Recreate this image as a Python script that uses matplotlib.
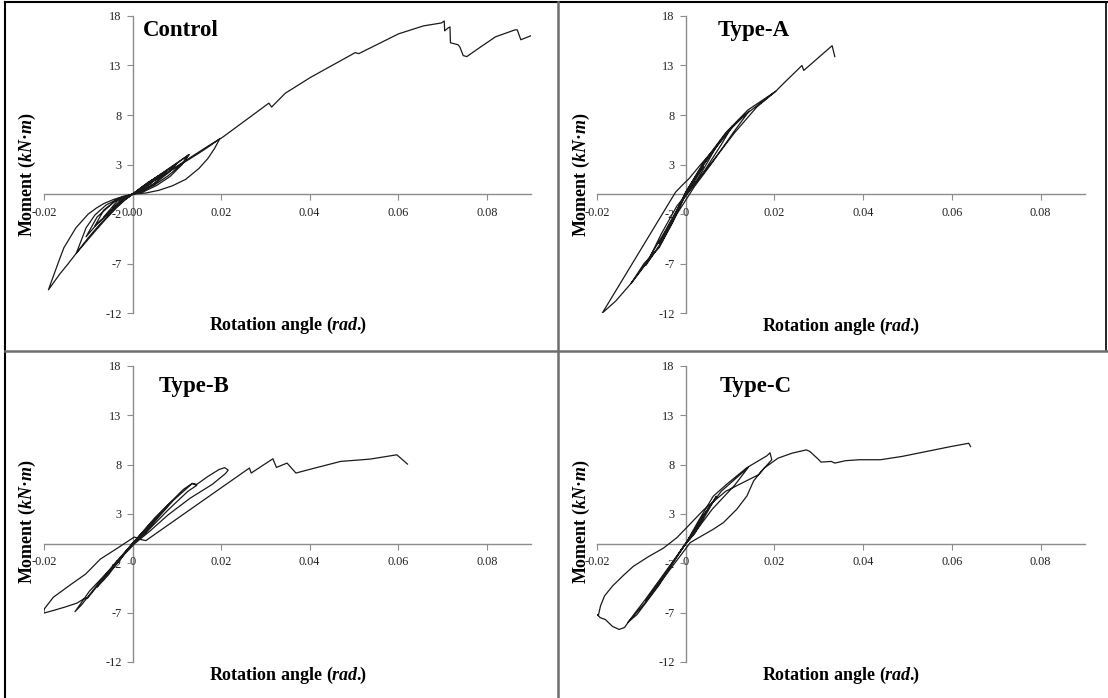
import matplotlib
matplotlib.use('Agg')
import matplotlib.pyplot as plt
from matplotlib.lines import Line2D

plt.rcParams['font.family'] = ['Liberation Serif', 'DejaVu Serif']
plt.rcParams['mathtext.fontset'] = 'custom'
plt.rcParams['mathtext.rm'] = 'Liberation Serif:bold'
plt.rcParams['mathtext.it'] = 'Liberation Serif:italic:bold'
plt.rcParams['mathtext.bf'] = 'Liberation Serif:bold'

# ---------------- data ----------------
x_ticks = [-0.02, 0.0, 0.02, 0.04, 0.06, 0.08]
x_ticklabels_control = ['-0.02', '0.00', '0.02', '0.04', '0.06', '0.08']
x_ticklabels_other = ['-0.02', '0', '0.02', '0.04', '0.06', '0.08']
y_ticks = [-12, -7, -2, 3, 8, 13, 18]
panel_titles = ['Control', 'Type-A', 'Type-B', 'Type-C']

control_rot = [0, 0.0015, 0.003, 0.0022, 0.001, 0, -0.0015, -0.003, -0.002, -0.001, 0,
               0.0025, 0.0053, 0.004, 0.002, 0, -0.002, -0.0045, -0.003, -0.0015, 0,
               0.0035, 0.0075, 0.0062, 0.004, 0.002, 0, -0.003, -0.0065, -0.0045, -0.002, 0,
               0.005, 0.0098, 0.0082, 0.0055, 0.003, 0, -0.0035, -0.0065, -0.0085, -0.006, -0.003, 0,
               0.0045, 0.009, 0.0128, 0.011, 0.008, 0.005, 0.002, 0,
               -0.004, -0.008, -0.0105, -0.008, -0.005, -0.002, 0,
               0.004, 0.0085, 0.0127, 0.0112, 0.0085, 0.0055, 0.0025, 0,
               -0.003, -0.006, -0.0085, -0.0105, -0.0127, -0.01, -0.0075, -0.005, -0.0025, 0,
               0.003, 0.0067, 0.01, 0.0127, 0.015, 0.0172, 0.0197,
               0.0185, 0.017, 0.015, 0.012, 0.009, 0.006, 0.003, 0,
               -0.002, -0.0045, -0.0065, -0.0082, -0.01, -0.0112, -0.0128, -0.0142, -0.0155,
               -0.0164, -0.0175, -0.019,
               -0.0165, -0.0145, -0.0127, -0.0105, -0.0082, -0.006, -0.0037, -0.0015, 0,
               0.004, 0.008, 0.0127, 0.0172, 0.0203, 0.0308, 0.0314, 0.0345, 0.0402, 0.0503, 0.0511,
               0.0601, 0.0657, 0.0698, 0.0704, 0.0705, 0.0713, 0.0717, 0.0718, 0.0735, 0.0739,
               0.0747, 0.0755, 0.0787, 0.082, 0.0864, 0.0869, 0.0877, 0.0905]
control_mom = [0, 0.5, 0.95, 0.55, 0.15, 0, -0.2, -0.75, -0.55, -0.25, 0,
               0.85, 1.65, 1.0, 0.35, 0, -0.3, -1.4, -0.95, -0.4, 0,
               1.2, 2.3, 1.6, 0.8, 0.25, 0, -0.45, -2.3, -1.5, -0.6, 0,
               1.6, 3.0, 2.2, 1.25, 0.5, 0, -0.55, -1.6, -3.2, -2.15, -0.95, 0,
               1.45, 2.85, 4.0, 3.0, 1.85, 0.95, 0.3, 0,
               -0.7, -2.3, -4.3, -3.0, -1.75, -0.6, 0,
               1.25, 2.6, 4.0, 3.0, 1.8, 0.9, 0.25, 0,
               -0.4, -1.1, -2.1, -3.4, -5.96, -4.4, -3.1, -1.9, -0.8, 0,
               0.85, 1.85, 2.75, 3.5, 4.15, 4.8, 5.6,
               4.6, 3.6, 2.6, 1.5, 0.85, 0.4, 0.12, 0,
               -0.2, -0.57, -0.95, -1.41, -2.0, -2.6, -3.4, -4.44, -5.4,
               -6.46, -7.8, -9.66,
               -8.1, -7.0, -5.96, -4.8, -3.6, -2.5, -1.4, -0.5, 0,
               1.15, 2.25, 3.6, 4.9, 5.74, 9.2, 8.8, 10.2, 11.8, 14.3, 14.2,
               16.2, 17.0, 17.3, 17.5, 16.5, 16.8, 16.9, 15.3, 15.1, 14.9,
               14.0, 13.9, 14.9, 15.9, 16.6, 16.6, 15.6, 16.1]

typea_rot = [0, 0.002, 0.004, 0.0025, 0.001, 0, -0.001, -0.003, -0.0018, -0.0005, 0,
             0.003, 0.007, 0.005, 0.002, 0, -0.002, -0.006, -0.004, -0.0015, 0,
             0.004, 0.0105, 0.008, 0.004, 0.0005, -0.002, -0.0055, -0.009, -0.006, -0.003, 0,
             0.004, 0.009, 0.0143, 0.011, 0.006, 0.002, -0.002, -0.006, -0.0123, -0.009,
             -0.005, -0.0015, 0,
             0.004, 0.009, 0.014, 0.0203, 0.016, 0.011, 0.006, 0.002, -0.0005, -0.003,
             -0.006, -0.0094, -0.0123, -0.0158, -0.0188, -0.0023, -0.0008, 0.0008, 0.003, 0.0065,
             0.0119, 0.0203, 0.0223, 0.0262, 0.0266, 0.033, 0.0336]
typea_mom = [0, 1.6, 2.8, 1.7, 0.5, 0, -0.8, -2.6, -1.6, -0.4, 0,
             2.3, 4.9, 3.3, 1.0, 0, -1.7, -5.0, -3.6, -1.2, 0,
             3.0, 6.9, 5.0, 2.2, 0.2, -1.2, -4.0, -7.2, -5.2, -2.6, 0.2,
             3.1, 6.1, 8.4, 6.4, 3.2, 0.8, -2.0, -5.3, -9.0, -7.0,
             -4.0, -1.2, 0.2,
             3.2, 6.2, 8.5, 10.4, 8.8, 6.2, 3.3, 1.0, -0.5, -2.9,
             -5.4, -7.0, -9.0, -10.8, -12.0, 0.2, 0.9, 1.6, 2.8, 4.6,
             7.5, 10.4, 11.3, 13.0, 12.5, 15.0, 13.9]

typeb_rot = [0, 0.003, 0.006, 0.004, 0.0015, 0, -0.002, -0.0045, -0.003, -0.001, 0,
             0.004, 0.009, 0.0065, 0.003, 0, -0.003, -0.008, -0.0055, -0.002, 0,
             0.005, 0.0115, 0.0135, 0.0145, 0.0125, 0.008, 0.003, 0, -0.004, -0.0097,
             -0.013, -0.0115, -0.008, -0.004, 0,
             0.004, 0.008, 0.0125, 0.0135, 0.0145, 0.017, 0.0195, 0.0208, 0.0216, 0.021,
             0.018, 0.013, 0.008, 0.004, 0.0005,
             -0.004, -0.0101, -0.011, -0.0126, -0.0154, -0.0179, -0.0201, -0.0199, -0.0179,
             -0.0138, -0.0106, -0.0073, -0.0032, 0.0004, 0.0015, 0.003, 0.0138, 0.0264,
             0.0268, 0.0317, 0.0325, 0.0349, 0.0369,
             0.0406, 0.047, 0.0536, 0.0597, 0.0621]
typeb_mom = [0, 1.5, 2.9, 1.9, 0.6, 0, -1.1, -2.5, -1.8, -0.5, 0,
             2.0, 4.3, 3.0, 1.2, 0, -1.6, -4.4, -3.2, -1.1, 0,
             2.6, 5.5, 6.1, 5.9, 5.3, 3.4, 1.1, 0, -2.1, -4.8,
             -6.9, -6.2, -4.2, -2.0, 0,
             2.0, 3.9, 5.7, 6.1, 6.0, 6.8, 7.5, 7.7, 7.45, 7.1,
             6.0, 4.6, 2.9, 1.3, 0.0,
             -2.1, -5.5, -5.6, -6.04, -6.45, -6.78, -7.05, -6.6, -5.44,
             -4.1, -3.09, -1.58, -0.4, 0.67, 0.45, 0.3, 3.7, 7.66,
             7.15, 8.6, 7.72, 8.16, 7.15,
             7.59, 8.33, 8.56, 9.0, 8.06]

typec_rot = [0, 0.002, 0.004, 0.0025, 0.001, 0, -0.002, -0.004, -0.0025, -0.001, 0,
             0.003, 0.0069, 0.005, 0.002, 0, -0.003, -0.009, -0.006, -0.002, 0,
             0.004, 0.008, 0.0141, 0.011, 0.006, 0.002, 0, -0.004, -0.009, -0.013,
             -0.011, -0.006, -0.002, 0,
             0.003, 0.0062, 0.0092, 0.0138, 0.0183, 0.019, 0.0194,
             0.0168, 0.0153, 0.0138, 0.0115, 0.0085, 0.0062, 0.0036, 0.001, -0.0001,
             -0.004, -0.009, -0.013, -0.0138, -0.015, -0.0165, -0.0181, -0.0193, -0.0199,
             -0.0197, -0.0192, -0.0183, -0.0165, -0.014, -0.0118, -0.0085, -0.005, -0.002,
             0.0002, 0.004, 0.009, 0.0165,
             0.0177, 0.0208, 0.024, 0.0272, 0.028, 0.03, 0.0305, 0.0328, 0.0336, 0.036,
             0.0391, 0.0439, 0.0487, 0.0542, 0.0598, 0.0638, 0.0642]
typec_mom = [0, 1.4, 2.8, 1.6, 0.5, 0, -1.3, -2.6, -1.7, -0.6, 0,
             2.1, 4.8, 3.3, 1.0, 0, -2.0, -5.78, -4.0, -1.3, 0,
             2.9, 5.3, 7.72, 5.9, 3.5, 1.1, 0, -2.5, -5.6, -7.96,
             -7.2, -4.2, -1.3, 0,
             2.4, 4.8, 6.0, 7.7, 8.9, 9.2, 8.5,
             7.2, 6.35, 4.83, 3.48, 2.13, 1.45, 0.78, 0.1, -0.57,
             -2.9, -5.9, -8.0, -8.5, -8.7, -8.4, -7.7, -7.5, -7.2,
             -7.3, -6.3, -5.3, -4.3, -3.2, -2.3, -1.35, -0.45, 0.6,
             1.62, 3.4, 5.3, 7.0,
             7.66, 8.66, 9.17, 9.5, 9.33, 8.5, 8.26, 8.33, 8.16, 8.4,
             8.5, 8.5, 8.83, 9.33, 9.84, 10.17, 9.84]

rotations = [control_rot, typea_rot, typeb_rot, typec_rot]
moments = [control_mom, typea_mom, typeb_mom, typec_mom]

# ---------------- layout ----------------
W, H = 1108, 698
fig = plt.figure(figsize=(W / 100, H / 100), dpi=100)

def fx(p):
    return p / W

def fy(p):
    return 1 - p / H

# axes boxes in pixels: (left, right, top, bottom)
boxes = [(44, 531, 16, 313), (597, 1085, 16, 313),
         (44, 531, 366, 662), (597, 1085, 366, 662)]
title_pos = [(0.0023, 16.0), (0.0072, 16.0), (0.0058, 15.4), (0.0076, 15.4)]
ylabel_x = [-0.035, -0.032, -0.035, -0.032]
ylabel_y = [0.465, 0.465, 0.475, 0.475]
xlabel_y = [-0.057, -0.06, -0.061, -0.061]

axis_col = '#8c8c8c'
for i in range(4):
    l, r, t, b = boxes[i]
    ax = fig.add_axes([fx(l), fy(b), (r - l) / W, (b - t) / H])
    ax.plot(rotations[i], moments[i], color='#1a1a1a', lw=0.9, zorder=3)
    ax.set_xlim(-0.02, 0.09)
    ax.set_ylim(-12, 18)
    for s in ['top', 'right']:
        ax.spines[s].set_visible(False)
    ax.spines['left'].set_position(('data', 0))
    ax.spines['bottom'].set_position(('data', 0))
    for s in ['left', 'bottom']:
        ax.spines[s].set_color(axis_col)
        ax.spines[s].set_linewidth(1.0)
        ax.spines[s].set_zorder(1)
    ax.set_xticks(x_ticks)
    ax.set_xticklabels(x_ticklabels_control if i == 0 else x_ticklabels_other)
    ax.set_yticks(y_ticks)
    ax.set_yticklabels([str(v) for v in y_ticks])
    ax.tick_params(axis='both', direction='out', length=4, width=0.8,
                   color=axis_col, labelsize=8.8, labelcolor='#222222')
    ax.tick_params(axis='x', pad=5)
    ax.tick_params(axis='y', pad=4)
    ax.patch.set_visible(False)
    ax.text(title_pos[i][0], title_pos[i][1], panel_titles[i], fontsize=16.5,
            fontweight='bold', ha='left', va='baseline')
    ax.text(0.5, xlabel_y[i], r'Rotation angle $\mathrm{(}\mathit{rad.}\!\!\mathrm{)}$',
            transform=ax.transAxes,
            fontsize=13, fontweight='bold', ha='center', va='baseline')
    ax.text(ylabel_x[i], ylabel_y[i], r'Moment $\mathrm{(}\mathit{kN·m}\mathrm{)}$',
            transform=ax.transAxes,
            fontsize=13, fontweight='bold', ha='center', va='center', rotation=90)

# table-like frame lines
fig.add_artist(Line2D([fx(5), 1], [fy(2), fy(2)], color='black', lw=1.5))
fig.add_artist(Line2D([fx(5), fx(5)], [0, fy(2)], color='black', lw=1.5))
fig.add_artist(Line2D([fx(1106), fx(1106)], [fy(351), fy(2)], color='black', lw=1.2))
fig.add_artist(Line2D([fx(558), fx(558)], [0, fy(2)], color='#6e6e6e', lw=1.8))
fig.add_artist(Line2D([fx(5), 1], [fy(351), fy(351)], color='#6e6e6e', lw=1.8))

fig.savefig('out.png', dpi=100)
